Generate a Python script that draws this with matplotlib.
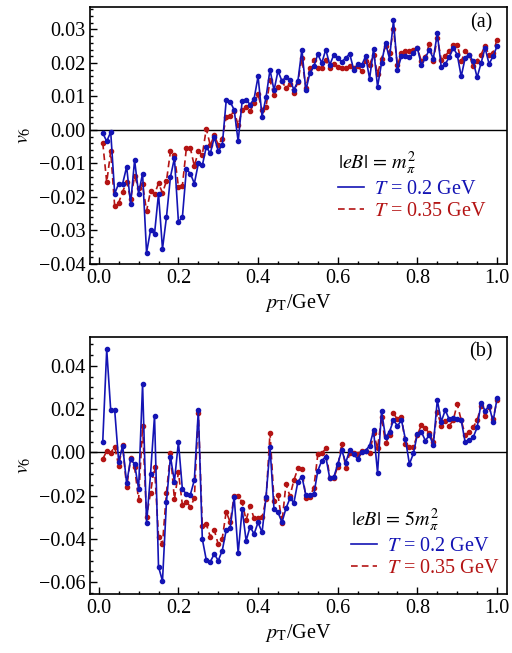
import numpy as np
import matplotlib
matplotlib.use("Agg")
import matplotlib.pyplot as plt
from matplotlib.lines import Line2D
from matplotlib.ticker import MultipleLocator

plt.rcParams['font.family'] = ['Liberation Serif', 'DejaVu Serif']
plt.rcParams['mathtext.fontset'] = 'stix'

pt = np.round(np.arange(1, 101) * 0.01, 2)

a_T02 = [-0.0009, -0.0034, -0.0006, -0.019, -0.016, -0.016, -0.011, -0.022, -0.009, -0.019,
         -0.013, -0.0366, -0.030, -0.031, -0.019, -0.0355, -0.026, -0.014, -0.0084, -0.0274,
         -0.026, -0.0117, -0.013, -0.016, -0.010, -0.0106, -0.005, -0.007, -0.0022, -0.0062,
         -0.0046, 0.0088, 0.0084, 0.006, -0.0034, 0.0086, 0.009, 0.0076, 0.0093, 0.016,
         0.004, 0.0098, 0.018, 0.0118, 0.0176, 0.0146, 0.0158, 0.015, 0.012, 0.0146,
         0.024, 0.0118, 0.017, 0.019, 0.0226, 0.020, 0.024, 0.0194, 0.0224, 0.0214,
         0.0204, 0.0214, 0.0228, 0.018, 0.0196, 0.0193, 0.022, 0.0153, 0.0242, 0.0129,
         0.020, 0.026, 0.0213, 0.0327, 0.018, 0.022, 0.022, 0.0217, 0.023, 0.0245,
         0.0193, 0.0215, 0.024, 0.0213, 0.0288, 0.0187, 0.0197, 0.0217, 0.0245, 0.0225,
         0.016, 0.0215, 0.0225, 0.0205, 0.0157, 0.020, 0.0245, 0.0197, 0.022, 0.025]

a_T035 = [-0.0038, -0.0156, -0.0064, -0.0228, -0.0217, -0.0184, -0.0155, -0.0206, -0.0138, -0.0174,
          -0.0162, -0.0242, -0.0182, -0.0192, -0.0159, -0.0188, -0.0152, -0.0064, -0.0076, -0.0169,
          -0.0166, -0.0054, -0.0054, -0.0108, -0.0064, -0.0074, 0.0004, -0.0046, -0.0016, -0.0044,
          -0.0026, 0.0039, 0.0043, 0.0056, 0.0014, 0.006, 0.0068, 0.0056, 0.008, 0.0106,
          0.006, 0.007, 0.0148, 0.0104, 0.0128, 0.0146, 0.0124, 0.0138, 0.011, 0.0144,
          0.0214, 0.0124, 0.0186, 0.021, 0.0186, 0.0186, 0.0208, 0.0186, 0.0198, 0.0188,
          0.0186, 0.0186, 0.019, 0.0186, 0.019, 0.0177, 0.0207, 0.0195, 0.0225, 0.0167,
          0.0213, 0.025, 0.023, 0.030, 0.0193, 0.023, 0.0235, 0.0237, 0.024, 0.0245,
          0.0205, 0.0217, 0.0257, 0.0207, 0.0275, 0.021, 0.022, 0.0237, 0.0255, 0.0255,
          0.0205, 0.0235, 0.0225, 0.019, 0.0207, 0.0225, 0.0252, 0.0223, 0.023, 0.027]

b_T02 = [0.0049, 0.0475, 0.0195, 0.0195, -0.0043, 0.003, -0.0143, -0.0032, -0.0054, -0.0169,
         0.0315, -0.0328, -0.010, 0.0169, -0.0528, -0.0594, -0.0228, -0.002, -0.0135, 0.0049,
         -0.0171, -0.0192, -0.0195, -0.0128, 0.0195, -0.040, -0.0497, -0.0505, -0.0469, -0.050,
         -0.0454, -0.0359, -0.0348, -0.0205, -0.0466, -0.0262, -0.0408, -0.0343, -0.0377, -0.0323,
         -0.037, -0.0205, 0.0023, -0.0263, -0.0277, -0.0323, -0.0259, -0.0212, -0.0232, -0.0135,
         -0.0112, -0.0197, -0.0197, -0.0194, -0.0085, -0.0038, -0.002, -0.012, -0.0115, -0.0055,
         0.0011, -0.0048, 0.001, -0.0009, -0.003, 0.0003, 0.0008, 0.0031, 0.0101, -0.0095,
         0.0192, 0.0069, 0.0095, 0.0149, 0.0122, 0.0149, 0.006, -0.0054, -0.0005, 0.0085,
         0.0095, 0.0054, 0.008, 0.0034, 0.0242, 0.0142, 0.0195, 0.0152, 0.0157, 0.0152,
         0.0149, 0.0046, 0.0057, 0.0069, 0.0115, 0.0229, 0.0192, 0.0214, 0.0142, 0.0249]

b_T035 = [-0.0031, 0.0006, -0.0002, 0.0026, -0.0062, 0.0032, -0.0162, -0.0028, -0.0069, -0.022,
          0.0122, -0.0297, -0.0186, -0.0066, -0.0389, -0.0423, -0.0186, -0.0005, -0.0217, -0.0092,
          -0.0243, -0.0228, -0.0251, -0.0213, 0.0183, -0.034, -0.0332, -0.0389, -0.0358, -0.0425,
          -0.0398, -0.0274, -0.0323, -0.020, -0.020, -0.0231, -0.0313, -0.0248, -0.0305, -0.0305,
          -0.030, -0.0217, 0.0091, -0.0223, -0.0197, -0.0325, -0.0146, -0.0202, -0.0128, -0.0074,
          -0.0078, -0.021, -0.0205, -0.0163, -0.0009, -0.0005, 0.0018, -0.012, -0.012, -0.0066,
          0.0038, -0.007, -0.0005, -0.0005, -0.0008, 0.0005, 0.0005, -0.0005, 0.0088, 0.0018,
          0.0165, 0.0042, 0.008, 0.018, 0.0152, 0.0165, 0.0038, 0.0023, 0.0026, 0.008,
          0.0126, 0.0111, 0.0088, 0.0049, 0.0188, 0.0122, 0.0146, 0.0122, 0.0149, 0.0223,
          0.0149, 0.008, 0.0095, 0.0115, 0.0149, 0.0214, 0.0168, 0.0208, 0.0152, 0.0242]

blue = '#1414b4'
red = '#b41414'
fs = 14.5

fig = plt.figure(figsize=(5.12, 6.53), dpi=100)
ax_a = fig.add_axes([90/512, 1-264/653, 417/512, 257/653])
ax_b = fig.add_axes([90/512, 1-594/653, 417/512, 257.3/653])

panels = [
    (ax_a, a_T02, a_T035, (-0.04, 0.0367), 0.01, 0.002, '(a)', r'$|eB|\,=\,m_{\pi}^{2}$', (0.595, 0.445)),
    (ax_b, b_T02, b_T035, (-0.0654, 0.0534), 0.02, 0.005, '(b)', r'$|eB|\,=\,5m_{\pi}^{2}$', (0.625, 0.34)),
]

for ax, yb, yr, ylim, maj, mnr, tag, title, anchor in panels:
    ax.axhline(0, color='black', lw=1.0, zorder=1)
    ax.plot(pt, yb, '-', color=blue, lw=1.2, marker='o', ms=3, zorder=3)
    ax.plot(pt, yr, '--', color=red, lw=1.2, marker='o', ms=3, dashes=(4, 2.5), zorder=2)
    ax.set_xlim(-0.022, 1.025)
    ax.set_ylim(*ylim)
    ax.xaxis.set_major_locator(MultipleLocator(0.2))
    ax.xaxis.set_minor_locator(MultipleLocator(0.05))
    ax.yaxis.set_major_locator(MultipleLocator(maj))
    ax.yaxis.set_minor_locator(MultipleLocator(mnr))
    ax.tick_params(which='both', direction='in', top=False, right=False, labelsize=fs, width=1.0)
    ax.tick_params(which='major', length=5)
    ax.tick_params(which='minor', length=2.5)
    ax.xaxis.set_major_formatter(matplotlib.ticker.FormatStrFormatter('%.1f'))
    ax.yaxis.set_major_formatter(matplotlib.ticker.FuncFormatter(
        lambda v, p: ('%.2f' % v).replace('-', '\u2212') if abs(v) > 1e-9 else '0.00'))
    for s in ax.spines.values():
        s.set_linewidth(1.2)
    ax.set_xlabel(r'$p_{\mathrm{T}}$/GeV', fontsize=fs, labelpad=3)
    ax.set_ylabel(r'$v_6$', fontsize=fs, labelpad=4)
    ax.text(0.965, 0.94, tag, transform=ax.transAxes, ha='right', va='center', fontsize=fs)
    handles = [Line2D([], [], color=blue, lw=1.2),
               Line2D([], [], color=red, lw=1.2, ls='--', dashes=(4, 2.5))]
    leg = ax.legend(handles, [r'$T$ = 0.2 GeV', r'$T$ = 0.35 GeV'], title=title,
                    loc='upper left', bbox_to_anchor=anchor, frameon=False, fontsize=fs,
                    title_fontsize=fs, labelcolor=[blue, red], alignment='left',
                    handlelength=1.3, handletextpad=0.5, borderpad=0, borderaxespad=0,
                    labelspacing=0.15)

fig.savefig('out.png', dpi=100)
